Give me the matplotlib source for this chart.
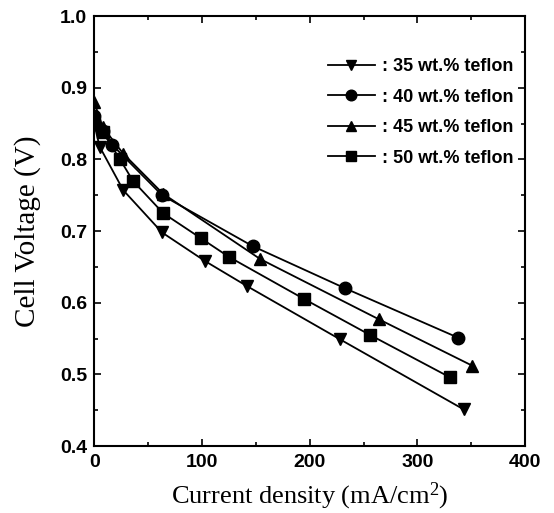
import matplotlib
matplotlib.use("Agg")
import matplotlib.pyplot as plt
from matplotlib.ticker import MultipleLocator

plt.rcParams["mathtext.fontset"] = "custom"
plt.rcParams["mathtext.rm"] = "Liberation Serif"
plt.rcParams["mathtext.it"] = "Liberation Serif:italic"
plt.rcParams["mathtext.bf"] = "Liberation Serif:bold"

# donnees
x35 = [0, 5, 27, 63, 103, 142, 228, 343]
y35 = [0.850, 0.818, 0.757, 0.698, 0.658, 0.623, 0.549, 0.451]

x40 = [0, 8, 17, 63, 147, 233, 338]
y40 = [0.860, 0.840, 0.820, 0.750, 0.679, 0.620, 0.551]

x45 = [0, 8, 27, 64, 154, 264, 351]
y45 = [0.880, 0.845, 0.808, 0.752, 0.661, 0.577, 0.512]

x50 = [0, 8, 24, 36, 64, 99, 125, 195, 256, 330]
y50 = [0.850, 0.838, 0.800, 0.770, 0.725, 0.690, 0.664, 0.605, 0.555, 0.496]

labels = [": 35 wt.% teflon", ": 40 wt.% teflon", ": 45 wt.% teflon", ": 50 wt.% teflon"]
markers = ["v", "o", "^", "s"]

fig = plt.figure(figsize=(5.54, 5.13), dpi=100)
ax = fig.add_axes([0.170, 0.1306, 0.778, 0.838])

series = [(x35, y35), (x40, y40), (x45, y45), (x50, y50)]
for (xs, ys), m, lab in zip(series, markers, labels):
    ax.plot(xs, ys, color="black", lw=1.3, marker=m, markersize=9, label=lab)

ax.set_xlim(0, 400)
ax.set_ylim(0.4, 1.0)
ax.xaxis.set_major_locator(MultipleLocator(100))
ax.xaxis.set_minor_locator(MultipleLocator(50))
ax.yaxis.set_major_locator(MultipleLocator(0.1))
ax.yaxis.set_minor_locator(MultipleLocator(0.05))
ax.tick_params(which="both", direction="in", top=True, right=True, width=1.2)
ax.tick_params(which="major", length=5, labelsize=14)
ax.tick_params(axis="x", which="major", pad=6)
ax.tick_params(axis="y", which="major", pad=5)
ax.tick_params(which="minor", length=3)
for s in ax.spines.values():
    s.set_linewidth(1.5)
for t in ax.get_xticklabels() + ax.get_yticklabels():
    t.set_fontfamily("Liberation Sans")
    t.set_fontweight("bold")

ax.set_xlabel("Current density (mA/cm$^{2}$)", fontfamily="Liberation Serif", fontsize=19, labelpad=7)
ax.set_ylabel("Cell Voltage (V)", fontfamily="Liberation Serif", fontsize=21, labelpad=14)

leg = ax.legend(loc="upper right", bbox_to_anchor=(1.01, 0.94), frameon=False,
                prop={"family": "Liberation Sans", "weight": "bold", "size": 13},
                handlelength=2.6, handletextpad=0.4, labelspacing=0.75, markerscale=0.85)

fig.savefig("out.png", dpi=100)
